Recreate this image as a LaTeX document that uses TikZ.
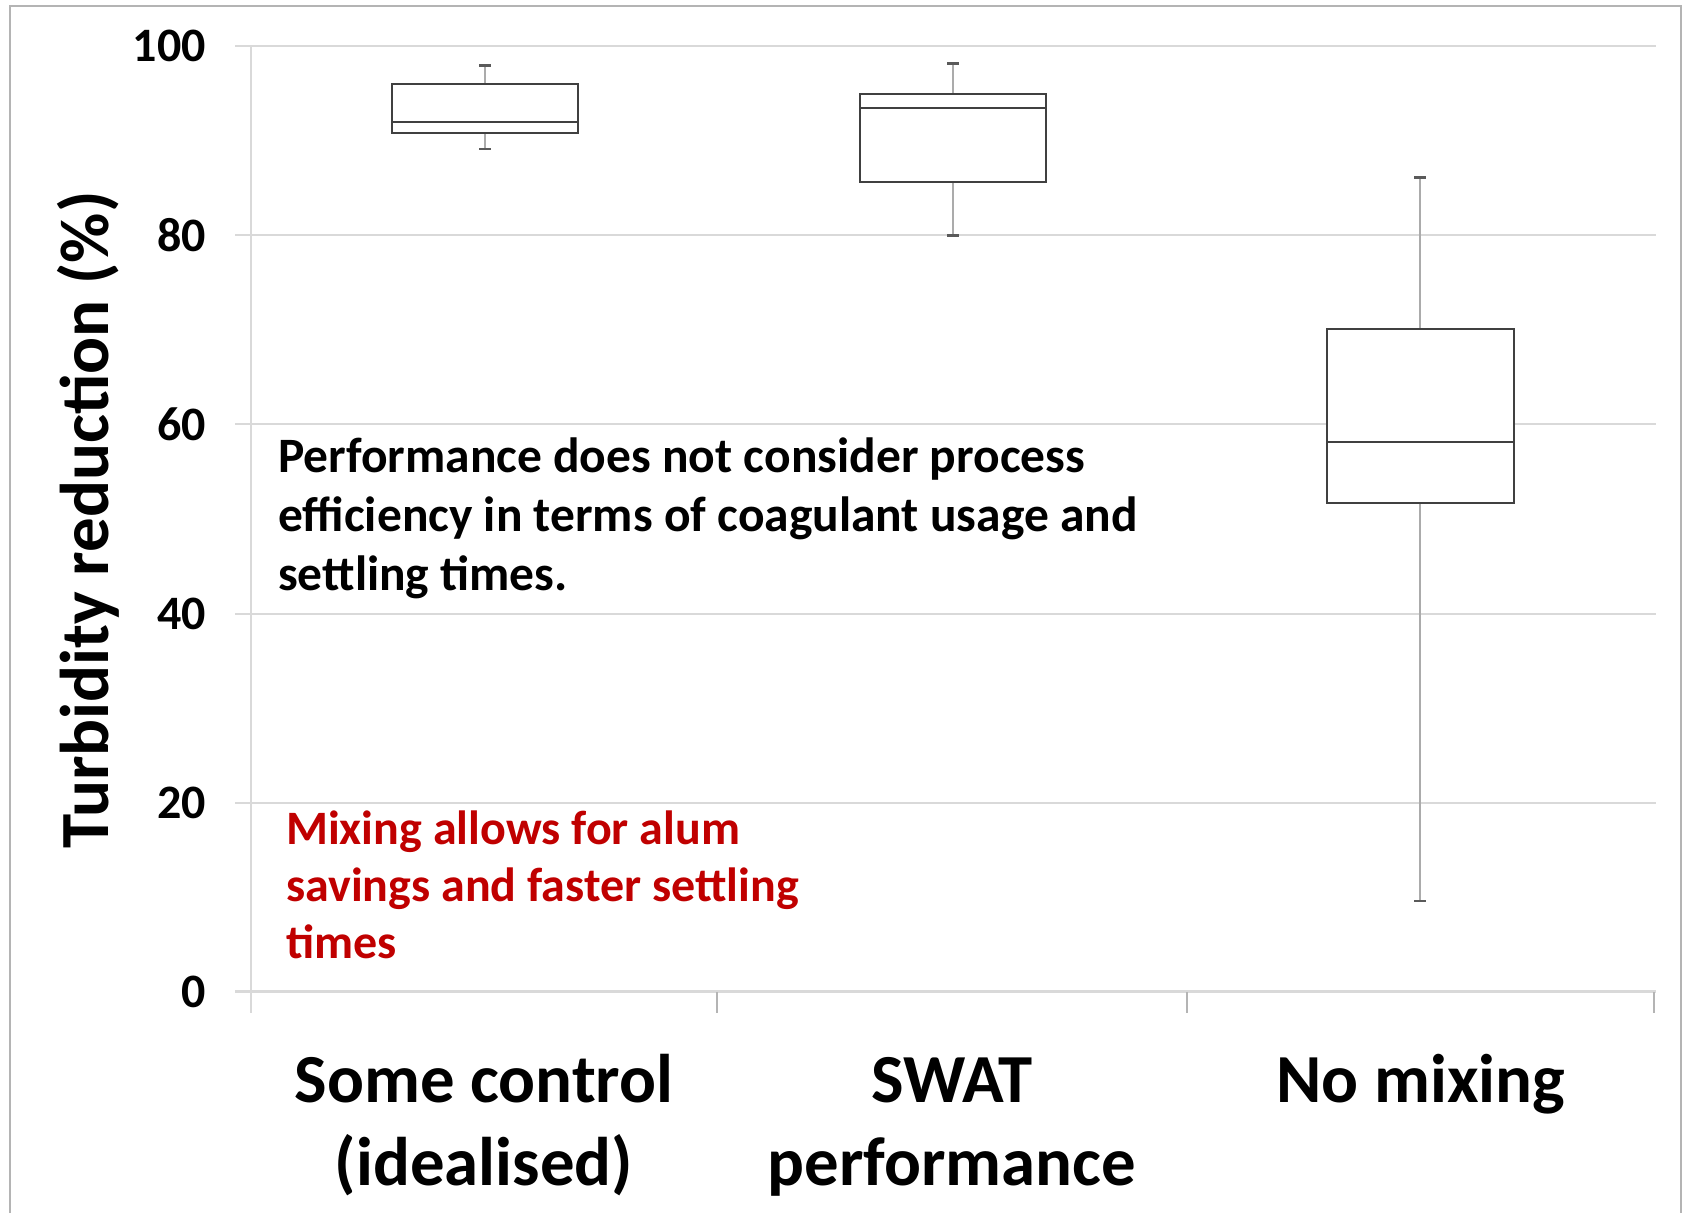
\documentclass[tikz,border=0pt]{standalone}
\usepackage{fontspec}
\setmainfont{Carlito}
\definecolor{gridc}{HTML}{D9D9D9}
\definecolor{framec}{HTML}{B4B4B4}
\definecolor{boxc}{HTML}{404040}
\definecolor{whiskc}{HTML}{ABABAB}
\definecolor{capc}{HTML}{5A5A5A}
\definecolor{notered}{HTML}{C00000}
\begin{document}
\begin{tikzpicture}[x=1pt,y=-1pt,
  gridl/.style={draw=gridc, line width=2pt},
  axisl/.style={draw=gridc, line width=2pt},
  tickl/.style={draw=framec, line width=1.5pt},
  boxst/.style={draw=boxc, fill=white, line width=2pt},
  medst/.style={draw=boxc, line width=2.2pt},
  whisk/.style={draw=whiskc, line width=2pt},
  capst/.style={draw=capc, line width=2.5pt},
  ticklab/.style={font=\fontsize{48}{58}\selectfont\bfseries, inner sep=0pt, anchor=east},
  ylab/.style={font=\fontsize{69}{83}\selectfont\bfseries, inner sep=0pt, rotate=90, anchor=base},
  catlab/.style={font=\fontsize{68.8}{83}\selectfont\bfseries, inner sep=0pt, align=center, anchor=base},
  blacknote/.style={font=\fontsize{49.5}{59}\selectfont\bfseries, inner sep=0pt, align=left, anchor=base west},
  rednote/.style={font=\fontsize{48}{57}\selectfont\bfseries, text=notered, inner sep=0pt, align=left, anchor=base west}
]
\useasboundingbox (0,0) rectangle (1683,1213);
\fill[white] (0,0) rectangle (1683,1213);
% outer frame
\draw[draw=framec, line width=2pt] (10,1213) -- (10,6) -- (1681,6) -- (1681,1213);
% gridlines
\foreach \v in {20,40,60,80,100}{
  \draw[gridl] (235,{991.7-9.455*\v}) -- (1656,{991.7-9.455*\v});
}
% y axis and x axis
\draw[axisl] (251,46.2) -- (251,1013);
\draw[draw=gridc, line width=3pt] (235,991.7) -- (1656,991.7);
\foreach \x in {717,1187,1654}{
  \draw[tickl] (\x,992) -- (\x,1013);
}
% tick labels
\node[ticklab] (t100) at (206,46.2) {100};
\node[ticklab] (t80) at (206,235.3) {80};
\node[ticklab] (t60) at (206,424.4) {60};
\node[ticklab] (t40) at (206,613.5) {40};
\node[ticklab] (t20) at (206,802.6) {20};
\node[ticklab] (t0) at (206,991.7) {0};
% axis title
\node[ylab] (ytitle) at (108,520) {Turbidity reduction (\%)};
% box 1: Some control
\draw[whisk] (485,65.7) -- (485,149);
\draw[capst] (479,65.7) -- (491,65.7);
\draw[capst] (479,149) -- (491,149);
\draw[boxst] (392,83.5) rectangle (578,133.3);
\draw[medst] (392,121.7) -- (578,121.7);
\draw[medst] (392,133.3) -- (578,133.3);
% box 2: SWAT
\draw[whisk] (953,63.7) -- (953,235.7);
\draw[capst] (947,63.7) -- (959,63.7);
\draw[capst] (947,235.7) -- (959,235.7);
\draw[boxst] (860,93.7) rectangle (1046,181.7);
\draw[medst] (860,93.7) -- (1046,93.7);
\draw[medst] (860,107.7) -- (1046,107.7);
% box 3: No mixing
\draw[whisk] (1420,177.7) -- (1420,901);
\draw[capst] (1414,177.7) -- (1426,177.7);
\draw[capst] (1414,901) -- (1426,901);
\draw[boxst] (1327,329.3) rectangle (1514,503.3);
\draw[medst] (1327,441.7) -- (1514,441.7);
% annotations (anchor = baseline of the last line)
\node[blacknote] (note1) at (278,590.7) {Performance does not consider process\\efficiency in terms of coagulant usage and\\settling times.};
\node[rednote] (note2) at (286,958.3) {Mixing allows for alum\\savings and faster settling\\times};
% category labels
\node[catlab] (cat1) at (484,1185) {Some control\\(idealised)};
\node[catlab] (cat2) at (952,1185) {SWAT\\performance};
\node[catlab] (cat3) at (1421,1102) {No mixing};
\end{tikzpicture}
\end{document}
